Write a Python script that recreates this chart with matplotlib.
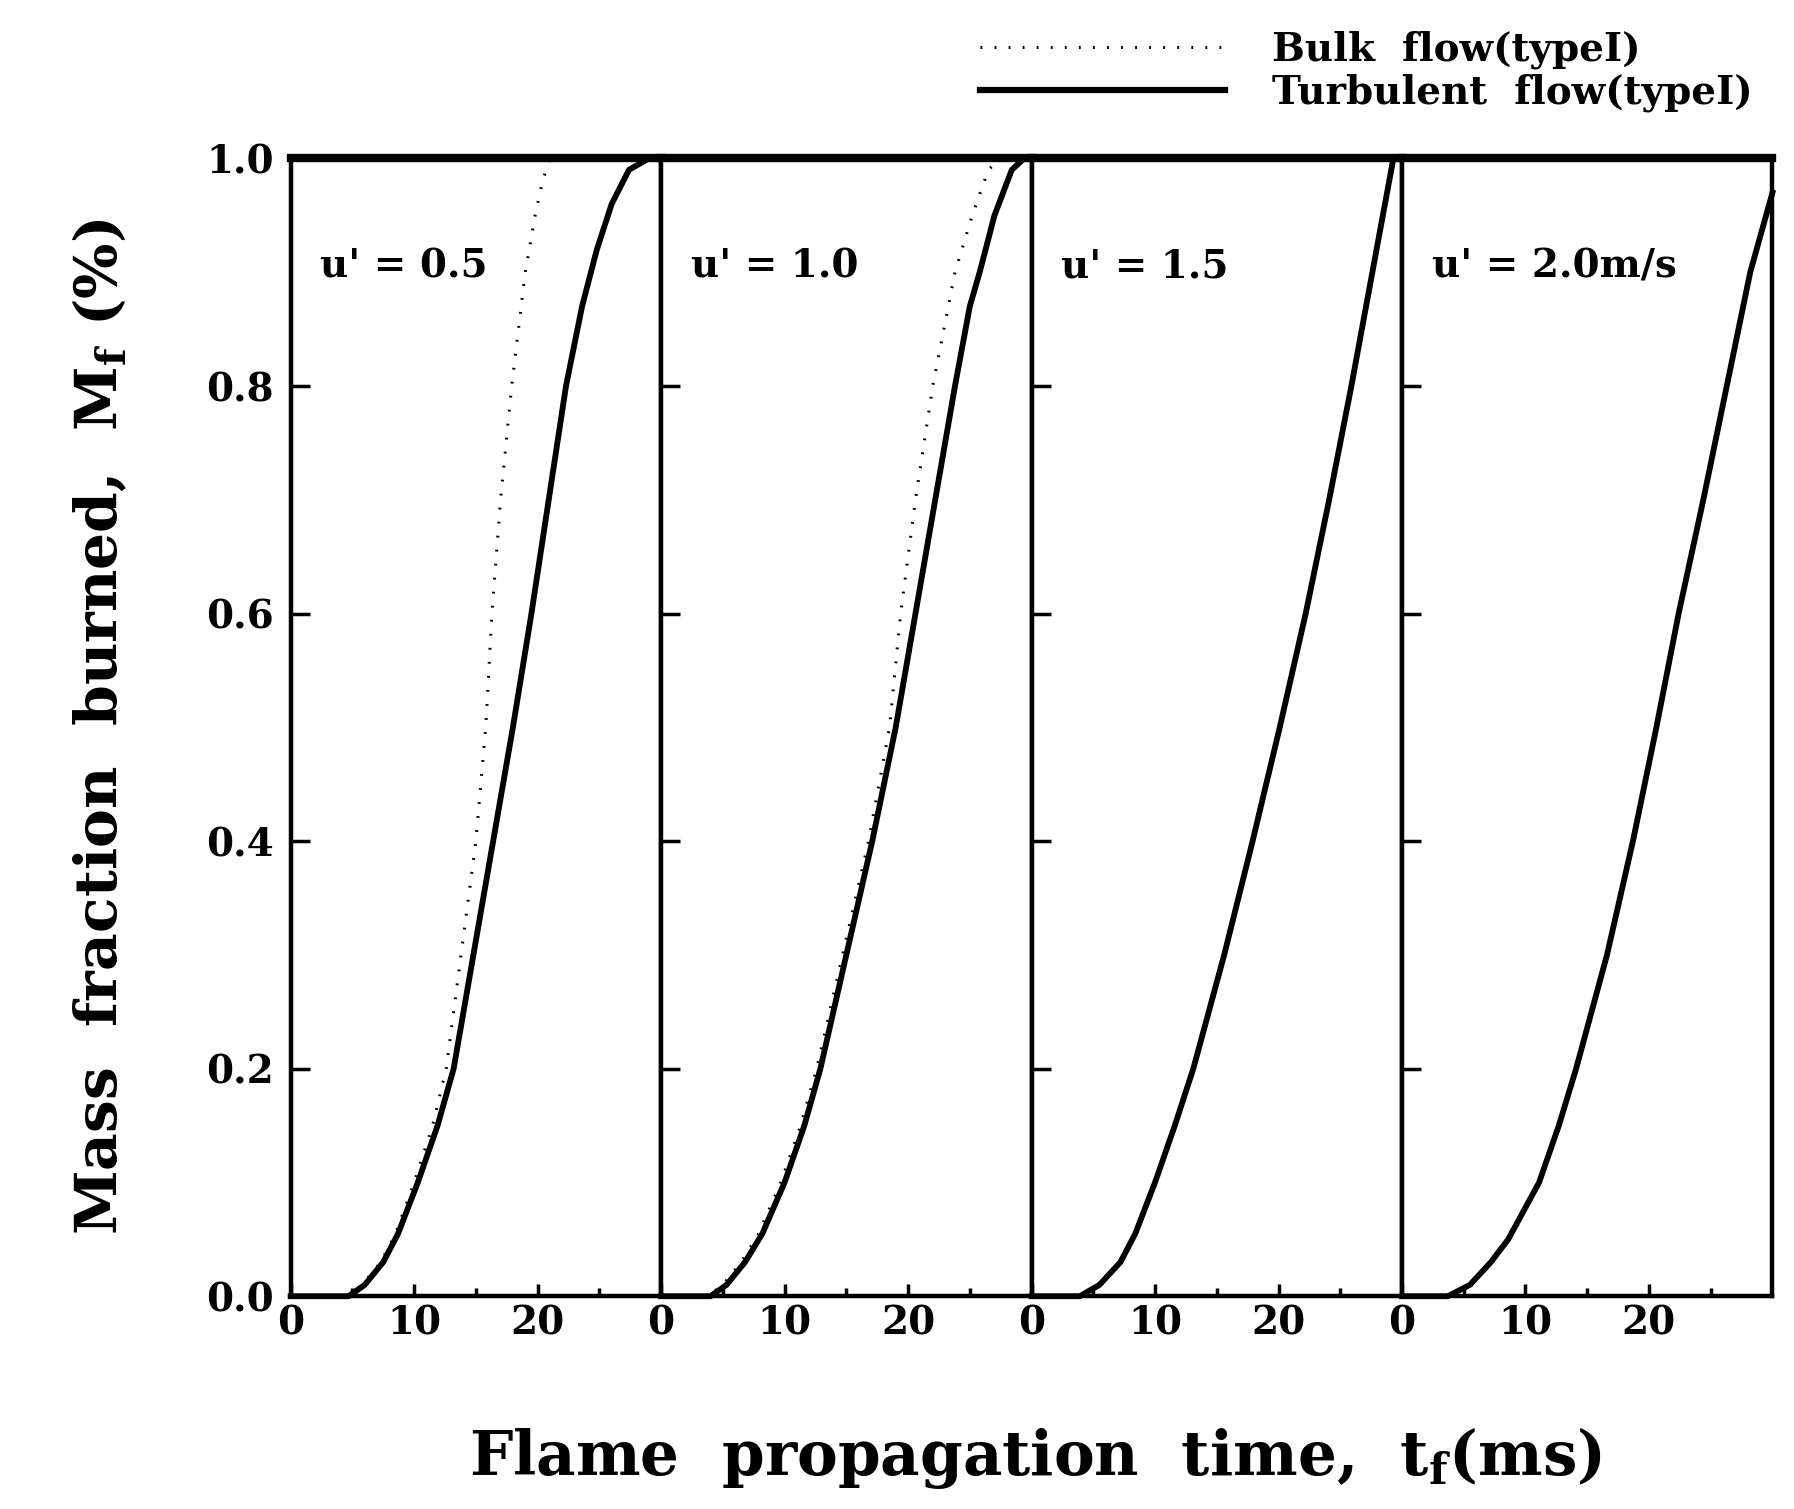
#!/usr/bin/env python3
"""Mass fraction burned vs flame propagation time, bulk vs turbulent flow (type I)."""

import matplotlib
matplotlib.use("Agg")
import matplotlib.pyplot as plt
from matplotlib.lines import Line2D

# Panel labels (turbulence intensity)
panel_labels = ["u' = 0.5", "u' = 1.0", "u' = 1.5", "u' = 2.0m/s"]

# Turbulent flow curves, one per panel (time in ms, mass fraction burned)
turb_t = [
    [0, 4.7, 6.0, 7.5, 8.7, 10.3, 11.9, 13.2, 14.8, 16.4, 18.0, 19.5, 20.9, 22.3,
     23.6, 24.8, 26.0, 27.4, 29.0, 30],
    [0, 4.0, 5.3, 6.8, 8.2, 10.0, 11.6, 12.9, 15.0, 17.1, 19.0, 20.6, 22.2, 23.8,
     25.0, 25.8, 27.0, 28.4, 29.4, 30],
    [0, 3.9, 5.5, 7.2, 8.4, 10.0, 11.6, 13.1, 15.6, 17.9, 20.1, 22.2, 24.1, 25.9,
     27.6, 29.3, 30],
    [0, 3.7, 5.5, 7.2, 8.6, 11.1, 12.7, 14.1, 16.6, 18.7, 20.6, 22.4, 24.4, 26.3,
     28.2, 30],
]
turb_m = [
    [0, 0, 0.01, 0.03, 0.055, 0.1, 0.15, 0.2, 0.3, 0.4, 0.5, 0.6, 0.7, 0.8,
     0.87, 0.92, 0.96, 0.99, 1.0, 1.0],
    [0, 0, 0.01, 0.03, 0.055, 0.1, 0.15, 0.2, 0.3, 0.4, 0.5, 0.6, 0.7, 0.8,
     0.87, 0.9, 0.95, 0.99, 1.0, 1.0],
    [0, 0, 0.01, 0.03, 0.055, 0.1, 0.15, 0.2, 0.3, 0.4, 0.5, 0.6, 0.7, 0.8,
     0.9, 1.0, 1.0],
    [0, 0, 0.01, 0.03, 0.05, 0.1, 0.15, 0.2, 0.3, 0.4, 0.5, 0.6, 0.7, 0.8,
     0.9, 0.97],
]

# Bulk flow curves (only visible in the first two panels)
bulk_t = [
    [0, 4.5, 5.8, 7.3, 8.5, 10.0, 11.5, 12.6, 13.8, 15.0, 15.8, 16.3, 17.0, 17.9,
     19.0, 19.8, 20.4, 21.0, 30],
    [0, 3.8, 5.0, 6.5, 7.9, 9.7, 11.3, 12.6, 14.7, 16.8, 18.5, 19.4, 20.6, 22.0,
     23.8, 25.2, 26.5, 27.5, 30],
]
bulk_m = [
    [0, 0, 0.01, 0.03, 0.055, 0.1, 0.15, 0.2, 0.3, 0.4, 0.5, 0.6, 0.7, 0.8,
     0.9, 0.95, 0.98, 1.0, 1.0],
    [0, 0, 0.01, 0.03, 0.055, 0.1, 0.15, 0.2, 0.3, 0.4, 0.5, 0.6, 0.7, 0.8,
     0.9, 0.95, 0.99, 1.0, 1.0],
]

x_ticks = [0, 10, 20]
y_ticks = [0.0, 0.2, 0.4, 0.6, 0.8, 1.0]

DOTS = (0, (0.6, 4))


def main() -> None:
    plt.rcParams["font.family"] = ["DejaVu Serif"]
    plt.rcParams["font.weight"] = "bold"
    plt.rcParams["mathtext.fontset"] = "dejavuserif"
    plt.rcParams["mathtext.default"] = "bf"

    fig, axes = plt.subplots(1, 4, figsize=(17.94, 15.09), dpi=100, sharey=True)
    fig.subplots_adjust(left=0.162, right=0.988, top=0.895, bottom=0.141, wspace=0)

    for i, ax in enumerate(axes):
        ax.plot(turb_t[i], turb_m[i], color="black", linewidth=4.2,
                solid_joinstyle="round", clip_on=False)
        if i < len(bulk_t):
            ax.plot(bulk_t[i], bulk_m[i], color="black", linewidth=2.2,
                    linestyle=DOTS, clip_on=False)

        ax.set_xlim(0, 30)
        ax.set_ylim(0, 1.0)
        ax.set_xticks(x_ticks)
        ax.set_xticks([5, 15, 25], minor=True)
        ax.set_yticks(y_ticks)
        ax.tick_params(axis="both", direction="in", width=2.5, labelsize=28)
        ax.tick_params(axis="x", which="major", length=9, pad=6)
        ax.tick_params(axis="x", which="minor", length=6, width=2.5, direction="in")
        ax.tick_params(axis="y", length=14, right=False, pad=12)
        for lab in ax.get_xticklabels() + ax.get_yticklabels():
            lab.set_fontweight("bold")

        for side in ("left", "right", "bottom"):
            ax.spines[side].set_linewidth(3.2)
        ax.spines["top"].set_linewidth(6)

        ax.text(2.4, 0.905, panel_labels[i], fontsize=28, fontweight="bold",
                ha="left", va="center")

    axes[0].set_ylabel("Mass  fraction  burned,  M$_f$ (%)", fontsize=42,
                       fontweight="bold", labelpad=55)
    fig.supxlabel("Flame  propagation  time,  t$_f$(ms)", fontsize=44,
                  fontweight="bold", x=0.577, y=0.012)

    handles = [
        Line2D([], [], color="black", linewidth=2.2, linestyle=DOTS),
        Line2D([], [], color="black", linewidth=4.5),
    ]
    fig.legend(handles, ["Bulk  flow(typeI)", "Turbulent  flow(typeI)"],
               loc="upper right", bbox_to_anchor=(0.99, 0.995), frameon=False,
               handlelength=6.3, handletextpad=1.2, labelspacing=0.1,
               borderaxespad=0.2, prop={"weight": "bold", "size": 28})

    fig.savefig("out.png", dpi=100, facecolor="white")


if __name__ == "__main__":
    main()
